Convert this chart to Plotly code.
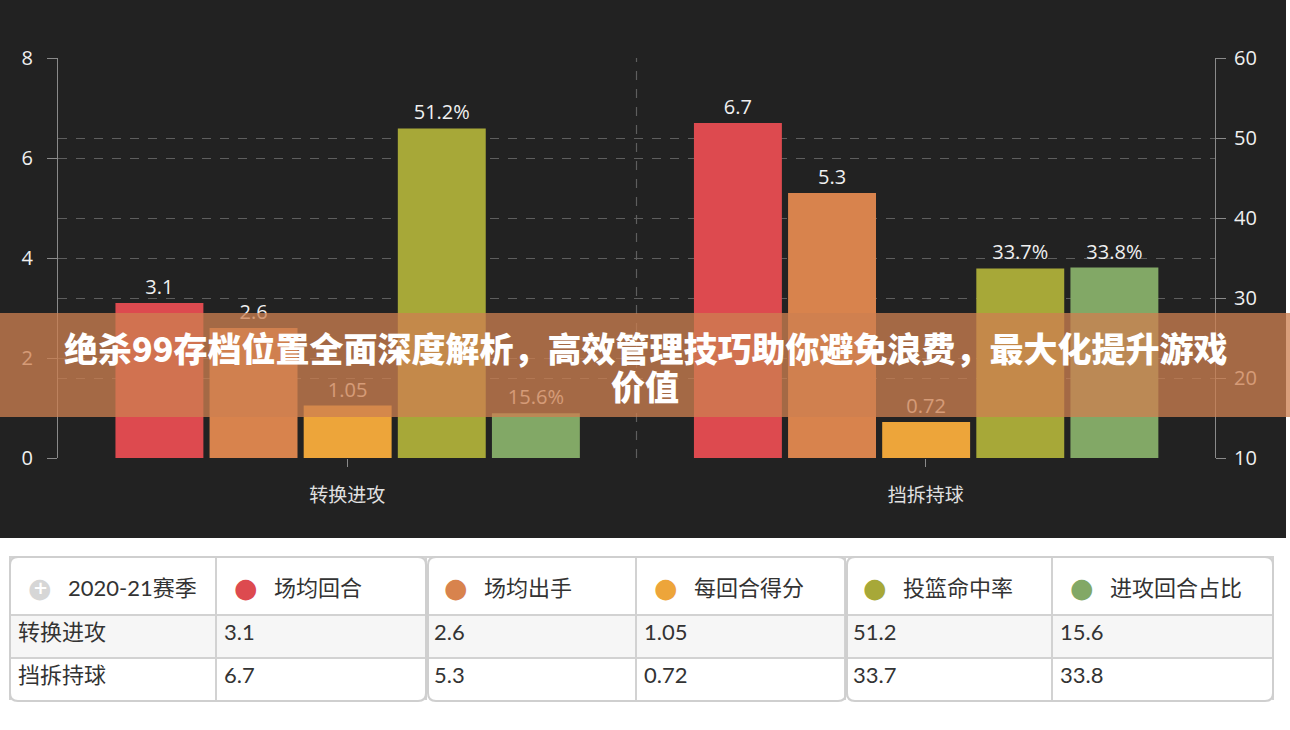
import plotly.graph_objects as go

# data
categories = ['转换进攻', '挡拆持球']
series_names = ['场均回合', '场均出手', '每回合得分', '投篮命中率', '进攻回合占比']
possessions = [3.1, 6.7]
shots = [2.6, 5.3]
points_per_poss = [1.05, 0.72]
fg_pct = [51.2, 33.7]
poss_share = [15.6, 33.8]
season_label = '2020-21赛季'
title_lines = ['绝杀99存档位置全面深度解析，高效管理技巧助你避免浪费，最大化提升游戏', '价值']

colors = ['#dd4a4f', '#d8834d', '#eda53a', '#a7a838', '#82a866']
series_values = [possessions, shots, points_per_poss, fg_pct, poss_share]
on_right = [False, False, False, True, True]

W, H = 1290, 730
BG = '#222222'
AXIS = '#8a8a8a'
GRID = '#5e5e5e'
LABEL_FONT = 'Open Sans, Noto Sans CJK SC'
CJK_FONT = 'Noto Sans CJK SC'
TABLE_FONT = 'Lato, Noto Sans CJK SC'

fig = go.Figure()

pitch, bar_w, start = 0.1627, 0.152, -0.4007
for i, (name, vals, col, right) in enumerate(zip(series_names, series_values, colors, on_right)):
    fig.add_trace(go.Bar(
        x=categories,
        y=vals,
        name=name,
        marker=dict(color=col, line=dict(width=0)),
        width=bar_w,
        offset=start + i * pitch,
        yaxis='y2' if right else 'y',
        texttemplate='%{y}%' if right else '%{y}',
        textposition='outside',
        textfont=dict(family=LABEL_FONT, size=20, color='#f0f0f0'),
        cliponaxis=False,
        showlegend=False,
    ))

# data table underneath; header labels are drawn as annotations so the dots can be coloured
col_widths = [206, 210, 210, 209, 207, 221]
table_x0, table_x1 = 10, 1273
table_top, header_h, row_h = 557, 58, 43
cell_cols = [categories] + [[f'{v:g}' for v in vals] for vals in series_values]

fig.add_trace(go.Table(
    domain=dict(x=[table_x0 / W, table_x1 / W],
                y=[1 - (table_top + header_h + 2 * row_h) / H, 1 - table_top / H]),
    columnwidth=col_widths,
    header=dict(
        values=[''] * 6,
        fill_color='white',
        line=dict(color='#d2d2d2', width=1.5),
        height=header_h,
    ),
    cells=dict(
        values=cell_cols,
        fill_color=[['#f6f6f6', '#ffffff']] * 6,
        line=dict(color='#d2d2d2', width=1.5),
        align='left',
        height=row_h,
        font=dict(family=TABLE_FONT, size=22, color='#333333'),
    ),
))

shapes = [
    # dark chart panel
    dict(type='rect', xref='paper', yref='paper', x0=0, x1=1286 / W, y0=(H - 538) / H, y1=1,
         fillcolor=BG, line=dict(width=0), layer='below'),
    # category divider
    dict(type='line', xref='x', yref='paper', x0=0.5, x1=0.5, y0=(H - 458) / H, y1=(H - 58) / H,
         line=dict(color=GRID, width=1.2, dash='dash'), layer='below'),
    # title banner
    dict(type='rect', xref='paper', yref='paper', x0=0, x1=1, y0=(H - 417) / H, y1=(H - 313) / H,
         fillcolor='rgba(205,128,80,0.76)', line=dict(width=0), layer='above'),
]

# rounded outlines around the three table blocks
def rounded(x0, x1, y0, y1, r=8):
    X0, X1 = x0 / W, x1 / W
    Y0, Y1 = 1 - y1 / H, 1 - y0 / H
    rx, ry = r / W, r / H
    return (f'M{X0 + rx},{Y1} L{X1 - rx},{Y1} Q{X1},{Y1} {X1},{Y1 - ry} '
            f'L{X1},{Y0 + ry} Q{X1},{Y0} {X1 - rx},{Y0} L{X0 + rx},{Y0} '
            f'Q{X0},{Y0} {X0},{Y0 + ry} L{X0},{Y1 - ry} Q{X0},{Y1} {X0 + rx},{Y1} Z')

table_bottom = table_top + header_h + 2 * row_h
for bx0, bx1 in [(10, 426), (428, 846), (847, 1273)]:
    shapes.append(dict(type='path', xref='paper', yref='paper', path=rounded(bx0, bx1, table_top, table_bottom),
                       line=dict(color='#cfcfcf', width=2), layer='above'))

annotations = [
    dict(text=title_lines[0], xref='paper', yref='paper', x=0.5, y=(H - 347) / H,
         showarrow=False, xanchor='center', yanchor='middle',
         font=dict(family=CJK_FONT, size=34, color='white', weight=900)),
    dict(text=title_lines[1], xref='paper', yref='paper', x=0.5, y=(H - 386) / H,
         showarrow=False, xanchor='center', yanchor='middle',
         font=dict(family=CJK_FONT, size=34, color='white', weight=900)),
]

# header cells: coloured dot + label
header_labels = [season_label] + series_names
header_dots = ['#d6d6d6'] + colors
header_y = 1 - (table_top + header_h / 2 + 1) / H
left = table_x0
for lab, dcol, cw in zip(header_labels, header_dots, col_widths):
    annotations.append(dict(text='●', xref='paper', yref='paper', x=(left + 30) / W, y=header_y,
                            showarrow=False, xanchor='center', yanchor='middle',
                            font=dict(family='DejaVu Sans', size=27, color=dcol)))
    annotations.append(dict(text=lab, xref='paper', yref='paper', x=(left + 56) / W, y=header_y,
                            showarrow=False, xanchor='left', yanchor='middle',
                            font=dict(family=TABLE_FONT, size=22, color='#333333')))
    left += cw
# plus sign on the season marker
annotations.append(dict(text='+', xref='paper', yref='paper', x=(table_x0 + 30) / W, y=header_y,
                        showarrow=False, xanchor='center', yanchor='middle',
                        font=dict(family='DejaVu Sans', size=18, color='white', weight='bold')))

axis_common = dict(
    showgrid=True, gridcolor=GRID, griddash='dash', gridwidth=1.2,
    showline=True, linecolor=AXIS, linewidth=1.2,
    ticks='outside', ticklen=10, tickcolor=AXIS, tickwidth=1.2,
    zeroline=False, automargin=False,
    tickfont=dict(family=LABEL_FONT, size=20, color='#f0f0f0'),
)

fig.update_layout(
    width=W, height=H,
    margin=dict(l=0, r=0, t=0, b=0, autoexpand=False),
    paper_bgcolor='white',
    plot_bgcolor='rgba(0,0,0,0)',
    barmode='overlay',
    xaxis=dict(
        domain=[58 / W, 1215 / W],
        type='category',
        range=[-0.5, 1.5],
        showgrid=False, zeroline=False, showline=False, automargin=False,
        ticks='outside', ticklen=8, tickcolor=AXIS, tickwidth=1.2,
        tickfont=dict(family=CJK_FONT, size=19, color='#e0e0e0'),
        ticklabelstandoff=12,
        anchor='y',
    ),
    yaxis=dict(domain=[(H - 458) / H, (H - 58) / H], range=[0, 8], dtick=2, side='left',
               ticklabelstandoff=10, **axis_common),
    yaxis2=dict(range=[10, 60], dtick=10, side='right', overlaying='y', anchor='x',
                ticklabelstandoff=4, **axis_common),
    shapes=shapes,
    annotations=annotations,
)

fig.write_html('out.html', config={'displayModeBar': False},
               post_script="document.body.style.margin='0';")
